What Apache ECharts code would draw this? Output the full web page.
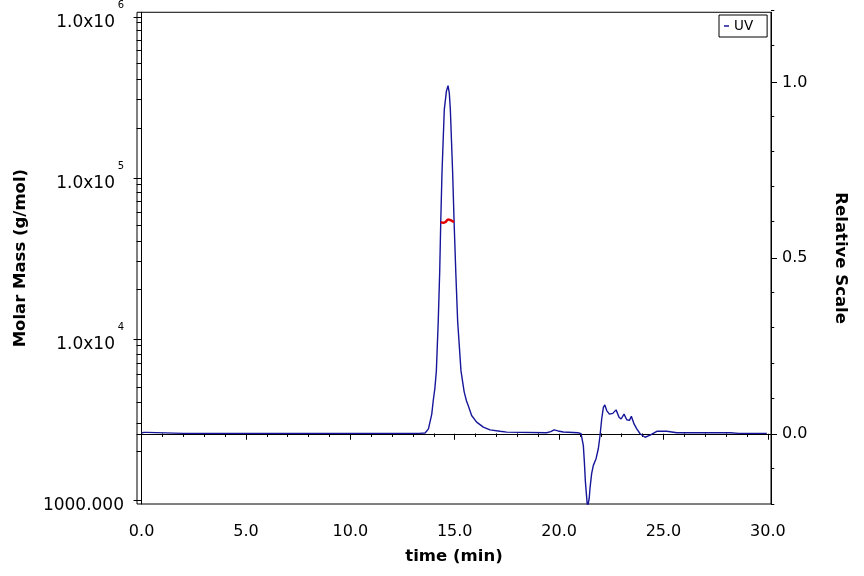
<!DOCTYPE html>
<html>
<head>
<meta charset="utf-8">
<script src="https://cdn.jsdelivr.net/npm/echarts@6/dist/echarts.min.js"></script>
<style>
  html, body { margin: 0; padding: 0; background: #fff; }
  #main { width: 864px; height: 576px; }
</style>
</head>
<body>
<div id="main"></div>
<script>
// UV trace (relative scale)
const uvTime = [
  0.00, 0.10, 0.25, 0.32, 2.0, 6.0, 10.0, 13.0, 13.30, 13.58, 13.74, 13.90, 13.97, 14.05, 14.12,
  14.21, 14.28, 14.33, 14.39, 14.50, 14.60, 14.68, 14.74, 14.79, 14.90, 14.97, 15.05, 15.14,
  15.30, 15.45, 15.56, 15.65, 15.81, 16.05, 16.37, 16.69, 17.17, 17.49, 19.40, 19.60, 19.76,
  19.95, 20.20, 20.90, 21.05, 21.12, 21.16, 21.21, 21.26, 21.31, 21.36, 21.40, 21.44, 21.48,
  21.56, 21.64, 21.77, 21.88, 21.96, 22.04, 22.12, 22.19, 22.28, 22.41, 22.57, 22.73, 22.87,
  22.97, 23.11, 23.24, 23.37, 23.46, 23.59, 23.72, 23.88, 24.12, 24.36, 24.68, 25.16, 25.64,
  26.30, 28.20, 28.60, 29.95
];
const uvValue = [
  0.002, 0.004, 0.004, 0.001, 0.001, 0.001, 0.001, 0.001, 0.001, 0.002, 0.014, 0.056, 0.094, 0.130, 0.179,
  0.320, 0.461, 0.602, 0.744, 0.923, 0.975, 0.991, 0.970, 0.923, 0.744, 0.602, 0.461, 0.320,
  0.179, 0.120, 0.094, 0.080, 0.052, 0.033, 0.019, 0.011, 0.007, 0.0045, 0.003, 0.006, 0.011,
  0.008, 0.005, 0.003, 0.000, -0.005, -0.033, -0.080, -0.137, -0.174, -0.210, -0.210, -0.185, -0.155,
  -0.113, -0.090, -0.071, -0.042, -0.005, 0.042, 0.075, 0.082, 0.066, 0.056, 0.058, 0.068, 0.047,
  0.042, 0.056, 0.040, 0.038, 0.050, 0.028, 0.014, 0.000, -0.010, -0.004, 0.007, 0.007, 0.003,
  0.003, 0.003, 0.001, 0.001
];

// molar mass across the peak (g/mol)
const massTime = [14.34, 14.45, 14.57, 14.69, 14.79, 14.88, 14.97];
const massValue = [53400, 52700, 53400, 55300, 54800, 54000, 53400];

// ticks
const timeTicks = [0, 5, 10, 15, 20, 25, 30];
const timeMinorTicks = [1, 2, 3, 4, 6, 7, 8, 9, 11, 12, 13, 14, 16, 17, 18, 19, 21, 22, 23, 24, 26, 27, 28, 29];
const massTicks = [1000, 10000, 100000, 1000000];
const massExp = [3, 4, 5, 6];
const massMinorTicks = [
  2000, 3000, 4000, 5000, 6000, 7000, 8000, 9000,
  20000, 30000, 40000, 50000, 60000, 70000, 80000, 90000,
  200000, 300000, 400000, 500000, 600000, 700000, 800000, 900000
];
const scaleTicks = [0, 0.5, 1.0];
const scaleMinorTicks = [-0.2, -0.1, 0.1, 0.2, 0.3, 0.4, 0.6, 0.7, 0.8, 0.9, 1.1, 1.2];

const FONT = 'DejaVu Sans';
const tMin = -0.22, tMax = 30.15;
const mMin = 944, mMax = 1070000;
const sMin = -0.2, sMax = 1.2;

const chart = echarts.init(document.getElementById('main'));

const gridBox = { left: 137, right: 93, top: 10, bottom: 72 };

// mass label: superscript on its own short line above, main text below
function massLabel(v) {
  let i = massTicks.indexOf(Math.round(v));
  let exp = i >= 0 ? massExp[i] : Math.round(Math.log10(v));
  if (exp === 3) return '{s| }\n{z|1000.000}';
  return '{s|' + exp + '}\n{b|1.0x10}{g| }';
}

const option = {
  animation: false,
  backgroundColor: '#fff',
  grid: [
    Object.assign({ show: true, borderColor: '#000', borderWidth: 1, backgroundColor: 'transparent', containLabel: false }, gridBox),
    Object.assign({ show: false, containLabel: false }, gridBox)
  ],
  legend: {
    data: ['UV'],
    left: 719, top: 15,
    borderColor: '#000', borderWidth: 1,
    padding: [4, 14, 4, 5],
    icon: 'rect', itemWidth: 5, itemHeight: 1.5, itemGap: 3,
    textStyle: { fontSize: 13.5, color: '#000', fontFamily: FONT }
  },
  xAxis: [
    {
      type: 'value', gridIndex: 0, min: tMin, max: tMax, position: 'bottom',
      axisLine: { show: true, lineStyle: { color: '#000', width: 1 } },
      axisTick: { show: true, customValues: timeTicks, length: 6, lineStyle: { color: '#000' } },
      axisLabel: {
        customValues: timeTicks, formatter: v => v.toFixed(1),
        fontSize: 16, margin: 20, color: '#000', fontFamily: FONT
      },
      splitLine: { show: false },
      name: 'time (min)', nameLocation: 'middle', nameGap: 44, nameMoveOverlap: false,
      nameTextStyle: { fontSize: 16.5, fontWeight: 'bold', color: '#000', fontFamily: FONT }
    },
    {
      type: 'value', gridIndex: 1, min: tMin, max: tMax, position: 'bottom',
      axisLine: { show: false },
      axisTick: { show: true, customValues: timeMinorTicks, length: 3.5, lineStyle: { color: '#000' } },
      axisLabel: { show: false },
      splitLine: { show: false }
    }
  ],
  yAxis: [
    {
      type: 'log', gridIndex: 0, min: mMin, max: mMax, position: 'left',
      axisLine: { show: true, lineStyle: { color: '#000', width: 1 } },
      axisTick: { show: true, customValues: massTicks, length: 8, lineStyle: { color: '#000' } },
      axisLabel: {
        customValues: massTicks, margin: 13, color: '#000', fontFamily: FONT,
        formatter: massLabel,
        rich: {
          s: { fontSize: 10, lineHeight: 12, fontFamily: FONT, color: '#000' },
          b: { fontSize: 17, lineHeight: 24, fontFamily: FONT, color: '#000' },
          g: { fontSize: 10, lineHeight: 24, width: 9 },
          z: { fontSize: 17, lineHeight: 24, fontFamily: FONT, color: '#000' }
        }
      },
      splitLine: { show: false },
      name: 'Molar Mass (g/mol)', nameLocation: 'middle', nameGap: 108, nameMoveOverlap: false,
      nameTextStyle: { fontSize: 16.5, fontWeight: 'bold', color: '#000', fontFamily: FONT }
    },
    {
      type: 'value', gridIndex: 0, min: sMin, max: sMax, position: 'right',
      axisLine: { show: true, lineStyle: { color: '#000', width: 1 } },
      axisTick: { show: true, customValues: scaleTicks, length: 6, lineStyle: { color: '#000' } },
      axisLabel: {
        customValues: scaleTicks, formatter: v => v.toFixed(1),
        fontSize: 16, margin: 11, color: '#000', fontFamily: FONT
      },
      splitLine: { show: false },
      name: 'Relative Scale', nameLocation: 'middle', nameGap: 61, nameRotate: -90, nameMoveOverlap: false,
      nameTextStyle: { fontSize: 16.5, fontWeight: 'bold', color: '#000', fontFamily: FONT }
    },
    {
      type: 'log', gridIndex: 1, min: mMin, max: mMax, position: 'left',
      axisLine: { show: false },
      axisTick: { show: true, customValues: massMinorTicks, length: 5, lineStyle: { color: '#000' } },
      axisLabel: { show: false },
      splitLine: { show: false }
    },
    {
      type: 'value', gridIndex: 1, min: sMin, max: sMax, position: 'right',
      axisLine: { show: false },
      axisTick: { show: true, customValues: scaleMinorTicks, length: 3.3, lineStyle: { color: '#000' } },
      axisLabel: { show: false },
      splitLine: { show: false }
    }
  ],
  series: [
    {
      name: 'UV', type: 'line', xAxisIndex: 0, yAxisIndex: 1,
      data: uvTime.map((t, i) => [t, uvValue[i]]),
      showSymbol: false, symbol: 'none', smooth: false, clip: true,
      lineStyle: { color: '#16169a', width: 1.4 },
      itemStyle: { color: '#16169a' }
    },
    {
      name: 'Molar Mass', type: 'line', xAxisIndex: 0, yAxisIndex: 0,
      data: massTime.map((t, i) => [t, massValue[i]]),
      showSymbol: false, symbol: 'none', smooth: true,
      lineStyle: { color: '#e00000', width: 2.5 },
      itemStyle: { color: '#e00000' }
    }
  ]
};

chart.setOption(option);
</script>
</body>
</html>
